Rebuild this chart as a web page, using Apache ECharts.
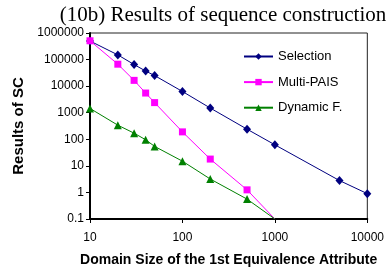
<!DOCTYPE html>
<html>
<head>
<meta charset="utf-8">
<script src="https://cdn.jsdelivr.net/npm/echarts@6/dist/echarts.min.js"></script>
<style>html,body{margin:0;padding:0;background:#fff;}#c{width:387px;height:276px;}</style>
</head>
<body>
<div id="c"></div>
<script>
var titleText = "(10b) Results of sequence construction";
var xName = "Domain Size of the 1st Equivalence Attribute";
var yName = "Results of SC";
var seriesNames = ["Selection", "Multi-PAIS", "Dynamic F."];

var selectionX = [10, 20, 30, 40, 50, 100, 200, 500, 1000, 5000, 10000];
var selectionY = [500000, 150000, 65000, 37000, 25000, 6300, 1500, 240, 62, 2.8, 0.9];

var multiX = [10, 20, 30, 40, 50, 100, 200, 500, 1000];
var multiY = [510000, 67000, 16500, 5500, 2400, 190, 18, 1.25, 0.1];

var dynX = [10, 20, 30, 40, 50, 100, 200, 500, 1000];
var dynY = [1450, 340, 170, 96, 54, 15, 3.2, 0.56, 0.1];

var xMin = 10, xMax = 10000, yMin = 0.1, yMax = 1000000;

function pts(xs, ys) {
  return xs.map(function (x, i) {
    var item = { value: [x, ys[i]] };
    if (ys[i] <= yMin) item.symbol = 'none';
    return item;
  });
}
function fmt(v) { return String(+(+v).toPrecision(6)); }

var chart = echarts.init(document.getElementById('c'), null, { renderer: 'canvas' });
chart.setOption({
  animation: false,
  backgroundColor: '#fff',
  title: {
    text: titleText, left: 218, top: 0, textAlign: 'center',
    textStyle: { fontFamily: 'Liberation Serif', fontSize: 21, fontWeight: 'normal', color: '#000' }
  },
  legend: {
    orient: 'vertical', left: 238, top: 45, itemWidth: 29, itemHeight: 8, itemGap: 12.6,
    data: seriesNames,
    textStyle: { fontFamily: 'Liberation Sans', fontSize: 13, color: '#000' }
  },
  grid: { left: 90, right: 19, top: 33, bottom: 57, show: true, borderColor: '#222', borderWidth: 1, containLabel: false },
  xAxis: {
    type: 'log', logBase: 10, min: xMin, max: xMax,
    name: xName, nameLocation: 'middle', nameGap: 34,
    nameTextStyle: { fontFamily: 'Liberation Sans', fontSize: 14, fontWeight: 'bold', color: '#000' },
    axisLine: { lineStyle: { color: '#000', width: 2 } },
    axisTick: { show: true, inside: false, length: 4, lineStyle: { color: '#000' } },
    minorTick: { show: false },
    splitLine: { show: false },
    axisLabel: { margin: 13, fontFamily: 'Liberation Sans', fontSize: 12, color: '#000', formatter: fmt }
  },
  yAxis: {
    type: 'log', logBase: 10, min: yMin, max: yMax,
    name: yName, nameLocation: 'middle', nameGap: 62, nameRotate: 90,
    nameTextStyle: { fontFamily: 'Liberation Sans', fontSize: 15, fontWeight: 'bold', color: '#000' },
    axisLine: { lineStyle: { color: '#000', width: 2 } },
    axisTick: { show: true, inside: false, length: 4, lineStyle: { color: '#000' } },
    splitLine: { show: false },
    axisLabel: { margin: 6, fontFamily: 'Liberation Sans', fontSize: 12, color: '#000', formatter: fmt }
  },
  series: [
    { name: seriesNames[0], type: 'line', data: pts(selectionX, selectionY), symbol: 'diamond', symbolSize: [8, 9],
      color: '#000080', lineStyle: { width: 1, color: '#000080' }, itemStyle: { color: '#000080' }, z: 3 },
    { name: seriesNames[1], type: 'line', data: pts(multiX, multiY), symbol: 'rect', symbolSize: 7,
      color: '#FF00FF', lineStyle: { width: 1, color: '#FF00FF' }, itemStyle: { color: '#FF00FF' }, z: 4 },
    { name: seriesNames[2], type: 'line', data: pts(dynX, dynY), symbol: 'triangle', symbolSize: 8,
      color: '#008000', lineStyle: { width: 1, color: '#008000' }, itemStyle: { color: '#008000' }, z: 5 }
  ]
});
</script>
</body>
</html>
